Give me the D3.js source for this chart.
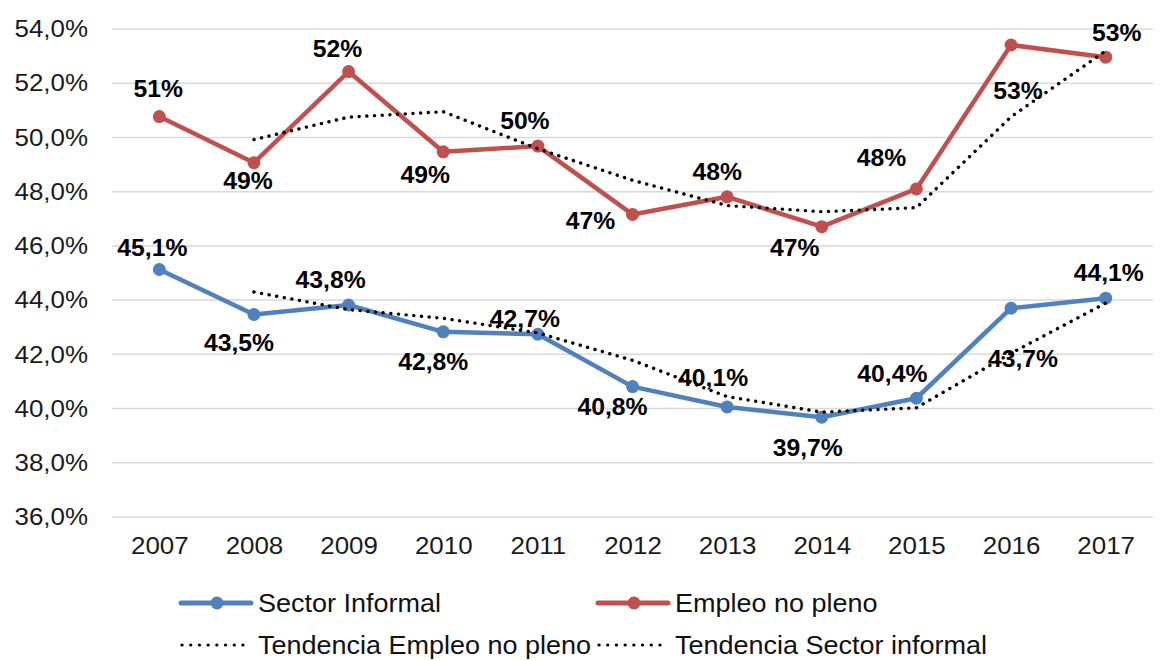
<!DOCTYPE html>
<html><head><meta charset="utf-8">
<script src="https://cdn.jsdelivr.net/npm/d3@7"></script>
<style>
body{margin:0;background:#fff}
svg{display:block}
text{font-family:"Liberation Sans",Arial,Helvetica,sans-serif}
</style>
</head><body>
<svg id="chart" width="1167" height="660"></svg>
<script>
// ---- data ----
const years = ["2007","2008","2009","2010","2011","2012","2013","2014","2015","2016","2017"];
const sectorInformal = [45.13, 43.47, 43.82, 42.83, 42.74, 40.81, 40.06, 39.68, 40.38, 43.70, 44.07];
const empleoNoPleno  = [50.77, 49.07, 52.43, 49.47, 49.68, 47.16, 47.81, 46.71, 48.10, 53.41, 52.96];
const tendenciaEmpleo = [null, 49.92, 50.75, 50.95, 49.58, 48.42, 47.49, 47.26, 47.41, 50.76, 53.19];
const tendenciaSector = [null, 44.30, 43.65, 43.33, 42.79, 41.78, 40.44, 39.87, 40.03, 42.04, 43.89];
const yTicks = [36, 38, 40, 42, 44, 46, 48, 50, 52, 54];
const legendLabels = ["Sector Informal", "Empleo no pleno", "Tendencia Empleo no pleno", "Tendencia Sector informal"];

// ---- layout (label offsets from their points) ----
const sectorLabelOffset = [[-7,-22],[-15,28],[-18,-26],[-10,30],[-13,-16],[-20,20],[-14,-30],[-14,30],[-24,-25],[12,50],[3,-26]];
const empleoLabelOffset = [[-1,-28],[-6,18],[-11,-23],[-18,23],[-13,-26],[-42,6],[-10,-25],[-27,21],[-35,-32],[7,45],[11,-25]];

const W = 1167, H = 660;
const margin = {left:112, right:14, top:29, bottom:143};
const blue = "#4F81BD", red = "#C0504D";
const stretch = 1.08;

const svg = d3.select("#chart");
const x = d3.scalePoint().domain(years).range([margin.left, W - margin.right]).padding(0.5);
const y = d3.scaleLinear().domain([36, 54]).range([H - margin.bottom, margin.top]);

const pct1 = v => d3.format(".1f")(v).replace(".", ",") + "%";
const pct0 = v => d3.format(".0f")(v) + "%";

// gridlines
svg.append("g")
  .selectAll("line").data(yTicks).join("line")
  .attr("x1", margin.left).attr("x2", W - margin.right)
  .attr("y1", d => y(d)).attr("y2", d => y(d))
  .attr("stroke", "#d9d9d9").attr("stroke-width", 1.5);

// y axis
const yAxis = svg.append("g").attr("transform", `translate(${margin.left},0)`)
  .call(d3.axisLeft(y).tickValues(yTicks).tickFormat(pct1).tickSize(0).tickPadding(0));
yAxis.select(".domain").remove();
yAxis.selectAll("text").attr("font-size", 24).attr("fill", "#1a1a1a")
  .attr("x", 0)
  .attr("transform", `translate(-24,0) scale(${stretch},1)`)
  .attr("font-family", '"Liberation Sans",Arial,sans-serif');

// x axis
const xAxis = svg.append("g").attr("transform", `translate(0,${H - margin.bottom})`)
  .call(d3.axisBottom(x).tickSize(0).tickPadding(20));
xAxis.select(".domain").remove();
xAxis.selectAll("text").attr("font-size", 24).attr("fill", "#1a1a1a")
  .attr("transform", `scale(${stretch},1)`)
  .attr("font-family", '"Liberation Sans",Arial,sans-serif');

const line = d3.line().defined(d => d.v != null).x(d => x(d.year)).y(d => y(d.v));
const toPts = arr => years.map((year, i) => ({year, v: arr[i], i}));

function drawSeries(values, color) {
  const pts = toPts(values);
  svg.append("path").datum(pts).attr("d", line)
    .attr("fill", "none").attr("stroke", color).attr("stroke-width", 4.5)
    .attr("stroke-linejoin", "round");
  svg.append("g").selectAll("circle").data(pts).join("circle")
    .attr("cx", d => x(d.year)).attr("cy", d => y(d.v)).attr("r", 6.5).attr("fill", color);
}
drawSeries(empleoNoPleno, red);
drawSeries(sectorInformal, blue);

function drawLabels(values, offsets, fmt) {
  svg.append("g").selectAll("text").data(toPts(values)).join("text")
    .attr("transform", d => `translate(${x(d.year) + offsets[d.i][0]},${y(d.v) + offsets[d.i][1]}) scale(1.03,1)`)
    .attr("dy", "0.36em").attr("text-anchor", "middle")
    .attr("font-size", 24).attr("font-weight", "bold").attr("fill", "#000")
    .text(d => fmt(d.v));
}
drawLabels(empleoNoPleno, empleoLabelOffset, pct0);
drawLabels(sectorInformal, sectorLabelOffset, pct1);

function drawTrend(values) {
  svg.append("path").datum(toPts(values)).attr("d", line)
    .attr("fill", "none").attr("stroke", "#000").attr("stroke-width", 3.4)
    .attr("stroke-linecap", "round").attr("stroke-dasharray", "0.1 7.6");
}
drawTrend(tendenciaEmpleo);
drawTrend(tendenciaSector);

// legend
const legendItems = [
  {label: legendLabels[0], color: blue, type: "marker", lx: 181, ly: 603},
  {label: legendLabels[1], color: red, type: "marker", lx: 598, ly: 603},
  {label: legendLabels[2], color: "#000", type: "dots", lx: 181, ly: 645},
  {label: legendLabels[3], color: "#000", type: "dots", lx: 598, ly: 645}
];
const lg = svg.append("g");
legendItems.forEach(it => {
  const g = lg.append("g");
  if (it.type === "marker") {
    g.append("line").attr("x1", it.lx).attr("x2", it.lx + 70).attr("y1", it.ly).attr("y2", it.ly)
      .attr("stroke", it.color).attr("stroke-width", 5).attr("stroke-linecap", "round");
    g.append("circle").attr("cx", it.lx + 36).attr("cy", it.ly).attr("r", 6.5).attr("fill", it.color);
  } else {
    g.append("line").attr("x1", it.lx + 1).attr("x2", it.lx + 62).attr("y1", it.ly).attr("y2", it.ly)
      .attr("stroke", "#000").attr("stroke-width", 3.2).attr("stroke-linecap", "round")
      .attr("stroke-dasharray", "0.1 8.6");
  }
  g.append("text").attr("transform", `translate(${it.lx + 77},${it.ly}) scale(${stretch},1)`)
    .attr("dy", "0.36em")
    .attr("font-size", 25).attr("fill", "#111").text(it.label);
});
</script>
</body></html>
